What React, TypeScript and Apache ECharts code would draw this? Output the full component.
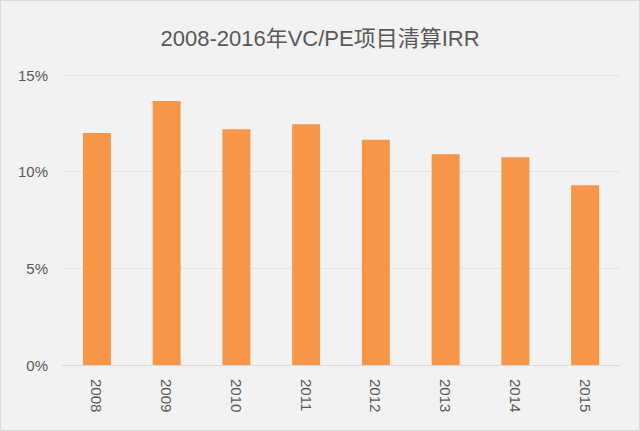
import React, { useEffect, useRef } from "react";
import * as echarts from "echarts";

const titleText = "2008-2016年VC/PE项目清算IRR";
const years = ["2008", "2009", "2010", "2011", "2012", "2013", "2014", "2015"];
const irr = [12.0, 13.65, 12.2, 12.45, 11.65, 10.9, 10.75, 9.3];

export default function App() {
  const ref = useRef<HTMLDivElement>(null);
  useEffect(() => {
    if (!ref.current) return;
    const chart = echarts.init(ref.current, undefined, { renderer: "svg" });
    chart.setOption({
      animation: false,
      backgroundColor: "#f2f2f2",
      title: {
        text: titleText,
        left: "center",
        top: 21,
        textStyle: {
          fontFamily: "'Liberation Sans', 'Noto Sans CJK SC', sans-serif",
          fontSize: 22,
          fontWeight: "normal",
          color: "#595959",
        },
      },
      grid: { left: 61, right: 19, top: 74, bottom: 65 },
      xAxis: {
        type: "category",
        data: years,
        axisLine: { lineStyle: { color: "#d9d9d9" } },
        axisTick: { show: false },
        axisLabel: {
          rotate: -90,
          color: "#595959",
          fontSize: 15,
          margin: 14,
          fontFamily: "'Liberation Sans', Arial, sans-serif",
        },
      },
      yAxis: {
        type: "value",
        min: 0,
        max: 15,
        interval: 5,
        axisLine: { show: false },
        axisTick: { show: false },
        splitLine: { lineStyle: { color: "#e4e4e4" } },
        axisLabel: {
          formatter: "{value}%",
          color: "#595959",
          fontSize: 15,
          margin: 14,
          fontFamily: "'Liberation Sans', Arial, sans-serif",
        },
      },
      series: [
        {
          type: "bar",
          data: irr,
          barWidth: 28,
          itemStyle: { color: "#f79646" },
        },
      ],
    });
    return () => chart.dispose();
  }, []);
  return (
    <div
      ref={ref}
      style={{
        position: "absolute",
        left: 0,
        top: 0,
        width: 638,
        height: 429,
        border: "1px solid #d9d9d9",
      }}
    />
  );
}
